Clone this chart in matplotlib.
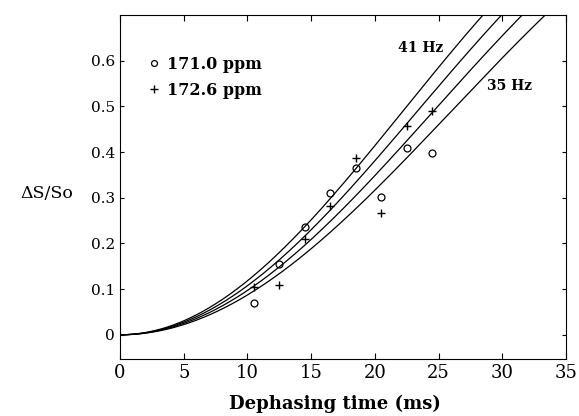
import numpy as np
import matplotlib.pyplot as plt

# dephasing times (ms) and measured dS/S0
times = [10.5, 12.5, 14.5, 16.5, 18.5, 20.5, 22.5, 24.5]
ds_171 = [0.070, 0.156, 0.236, 0.310, 0.365, 0.302, 0.408, 0.398]
ds_172 = [0.105, 0.110, 0.210, 0.282, 0.388, 0.267, 0.457, 0.490]

# dipolar couplings for the simulated curves (Hz)
couplings = [41, 39, 37, 35]
phase_scale = 2.35


def redor_curve(t_ms, coupling):
    """Powder averaged dS/S0 for a given coupling"""
    beta = np.linspace(0, np.pi / 2, 400)
    alpha = np.linspace(0, 2 * np.pi, 200, endpoint=False)
    b, a = np.meshgrid(beta, alpha, indexing="ij")
    w = np.sin(b)
    geom = np.sin(2 * b) * np.cos(a)
    out = []
    for t in t_ms:
        lam = coupling * t / 1000.0
        val = np.cos(phase_scale * lam * geom)
        out.append(1 - (val * w).sum() / w.sum())
    return np.array(out)


plt.rcParams["font.family"] = "DejaVu Serif"
plt.rcParams["mathtext.fontset"] = "dejavuserif"

fig = plt.figure(figsize=(5.79, 4.16), dpi=100)
ax = fig.add_axes([0.2073, 0.137, 0.7702, 0.827])

t_grid = np.linspace(0, 35, 300)
for d in couplings:
    ax.plot(t_grid, redor_curve(t_grid, d), color="black", lw=0.9)

ax.plot(times, ds_171, "o", mfc="none", mec="black", ms=5, mew=0.9,
        label="171.0 ppm")
ax.plot(times, ds_172, "+", color="black", ms=6, mew=1.0,
        label="172.6 ppm")

ax.set_xlim(0, 35)
ax.set_ylim(-0.053, 0.70)
ax.set_xticks(range(0, 36, 5))
ax.set_yticks([0, 0.1, 0.2, 0.3, 0.4, 0.5, 0.6])
ax.set_yticklabels(["0", "0.1", "0.2", "0.3", "0.4", "0.5", "0.6"])
ax.tick_params(direction="in", top=True, right=True, length=4,
               labelsize=11)
# left ticks point outward, right ticks inward
ax.tick_params(axis="y", direction="out", length=3, labelleft=True)
ax.tick_params(axis="y", right=True, direction="in")
ax.tick_params(axis="x", labelsize=13)

ax.set_xlabel("Dephasing time (ms)", fontsize=13, fontweight="bold",
              labelpad=9, x=0.483)
ax.text(-0.105, 0.48, "ΔS/So", transform=ax.transAxes, fontsize=12.5,
        ha="right", va="center")

ax.text(0.675, 0.904, "41 Hz", transform=ax.transAxes, fontsize=10,
        fontweight="bold", ha="center", va="center")
ax.text(0.874, 0.794, "35 Hz", transform=ax.transAxes, fontsize=10,
        fontweight="bold", ha="center", va="center")

ax.legend(loc="upper left", bbox_to_anchor=(0.058, 0.881), frameon=False,
          handletextpad=0.3, handlelength=1.0, borderaxespad=0,
          borderpad=0, labelspacing=0.56, markerscale=0.85,
          prop={"weight": "bold", "size": 11.5})

fig.savefig("out.png", dpi=100)
